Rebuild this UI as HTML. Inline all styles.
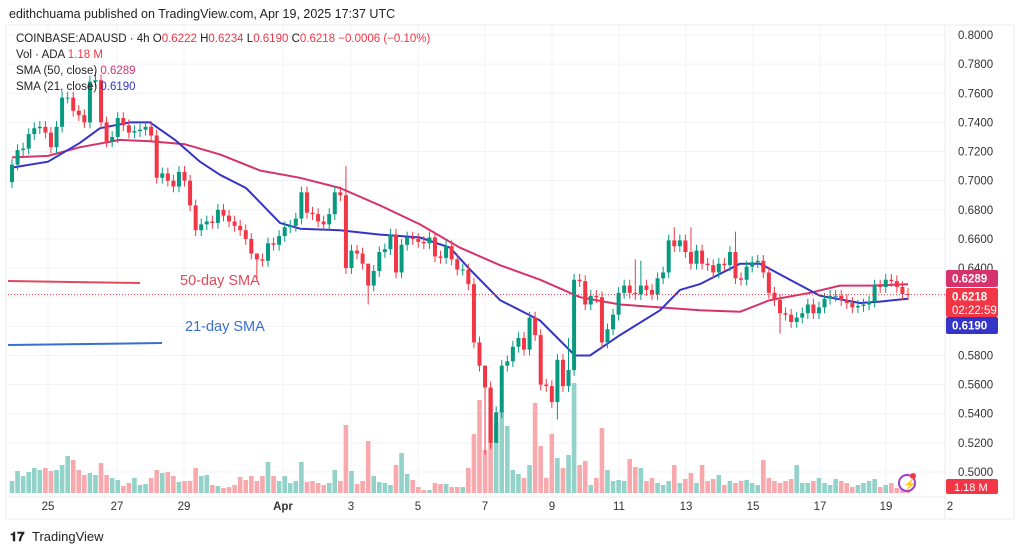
<!DOCTYPE html>
<html><head><meta charset="utf-8"><style>
body{margin:0;background:#fff;width:1024px;height:553px;overflow:hidden;font-family:"Liberation Sans",sans-serif}
svg text{font-family:"Liberation Sans",sans-serif}
</style></head><body>
<svg id="c" width="1024" height="553" viewBox="0 0 1024 553">
<text x="9" y="18" font-size="12.5" fill="#222">edithchuama published on TradingView.com, Apr 19, 2025 17:37 UTC</text>
<rect x="6" y="25" width="1008" height="494" fill="none" stroke="#e6e8ee"/>
<g id="grid"></g>
<g id="vol"></g>
<g id="sma"></g>
<g id="candles"></g>
<g id="axis"></g>
<g id="xaxis"></g>
<g font-size="11.5">
<text x="16" y="42" fill="#222">COINBASE:ADAUSD · 4h  O<tspan fill="#f23645">0.6222</tspan>  H<tspan fill="#f23645">0.6234</tspan>  L<tspan fill="#f23645">0.6190</tspan>  C<tspan fill="#f23645">0.6218</tspan>  <tspan fill="#f23645">−0.0006 (−0.10%)</tspan></text>
<text x="16" y="58" fill="#222">Vol · ADA  <tspan fill="#f23645">1.18 M</tspan></text>
<text x="16" y="74" fill="#222">SMA (50, close)  <tspan fill="#d6336c">0.6289</tspan></text>
<text x="16" y="90" fill="#222">SMA (21, close)  <tspan fill="#3434c8">0.6190</tspan></text>
</g>
<line x1="8" y1="281" x2="140" y2="283" stroke="#e04a5a" stroke-width="2"/>
<text x="180" y="285" font-size="14.5" fill="#e04a5a">50-day SMA</text>
<line x1="8" y1="345" x2="162" y2="343" stroke="#3a6fd0" stroke-width="2"/>
<text x="185" y="331" font-size="14.5" fill="#3a6fd0">21-day SMA</text>
<g><text x="10" y="541" font-size="13" font-weight="bold" fill="#222">𝟏𝟕</text><text x="32" y="541" font-size="13" fill="#222">TradingView</text></g>
<g><circle cx="907" cy="483" r="8" fill="none" stroke="#9c3bd6" stroke-width="2"/><circle cx="913" cy="476" r="3" fill="#f23645"/><text x="903" y="488" font-size="11" fill="#9c3bd6">⚡</text></g>
</svg>
<script>
const closes=[0.711,0.721,0.722,0.732,0.736,0.737,0.733,0.723,0.737,0.757,0.757,0.748,0.745,0.740,0.768,0.769,0.740,0.727,0.730,0.743,0.738,0.733,0.734,0.735,0.737,0.731,0.702,0.705,0.700,0.696,0.706,0.700,0.683,0.666,0.670,0.672,0.671,0.680,
0.676,0.672,0.669,
0.666,0.660,0.650,0.646,0.645,0.657,0.656,0.662,0.668,0.669,0.674,0.692,0.678,0.677,0.672,0.670,0.677,0.692,0.690,0.640,
0.652,0.650,0.643,0.628,0.638,0.651,0.653,0.663,0.637,0.656,0.661,0.660,0.658,0.657,0.661,0.648,0.647,0.655,0.646,0.639,0.639,0.629,0.589,0.573,0.558,0.520,
0.541,0.573,0.576,0.586,0.592,0.584,0.606,0.594,0.560,0.559,0.548,0.577,0.559,0.570,0.632,0.631,0.615,0.621,0.620,0.589,0.598,0.608,0.623,0.628,
0.623,0.622,0.628,0.625,0.622,0.633,0.637,0.659,0.655,0.659,0.651,0.643,0.652,0.643,0.642,0.637,0.643,0.642,0.651,0.633,0.632,0.641,0.644,0.645,0.637,0.623,0.618,0.609,0.608,0.603,0.606,0.609,0.615,0.609,0.613,0.619,0.621,0.621,0.618,0.616,0.613,0.614,0.615,0.617,0.628,0.627,0.632,0.631,0.627,0.6222,0.6218];
const firstOpen=0.699;
const highSpikes={15:0.775,60:0.710,85:0.512,100:0.592,112:0.646,113:0.645,119:0.668,122:0.668,64:0.615,44:0.632,130:0.665};
const lowSpikes={85:0.512,98:0.536,64:0.615,44:0.632,138:0.595,87:0.540};
const volumes=[12,22,17,21,25,23,25,22,23,28,37,33,23,18,20,18,30,18,15,13,7,10,15,8,9,15,23,20,21,17,11,12,12,25,17,18,8,7,5,6,8,16,13,17,12,17,31,17,12,17,10,12,31,11,12,10,8,10,23,12,68,
22,9,12,52,17,11,10,8,28,40,19,13,6,3,3,10,9,9,6,6,6,25,59,93,43,104,
70,82,67,23,19,15,28,90,47,15,59,35,25,38,110,28,32,8,15,65,23,12,13,12,
34,26,25,12,15,10,8,12,28,10,14,20,10,28,12,14,18,8,12,10,12,13,10,8,33,15,12,10,12,14,28,10,10,12,15,10,8,14,12,10,6,8,10,12,14,6,8,10,5,4,3];
const sma50X=[12,48,80,120,150,185,220,260,300,340,380,420,460,500,540,580,620,660,700,740,770,810,840,870,908];
const sma50V=[0.716,0.717,0.723,0.728,0.727,0.725,0.718,0.707,0.702,0.695,0.683,0.670,0.654,0.642,0.632,0.620,0.615,0.613,0.611,0.610,0.618,0.623,0.628,0.628,0.6289];
const sma21X=[12,48,80,100,130,150,175,200,220,246,280,300,340,380,420,450,470,500,540,575,590,620,660,680,700,740,760,790,820,860,880,908];
const sma21V=[0.709,0.713,0.726,0.736,0.740,0.740,0.728,0.713,0.704,0.695,0.671,0.667,0.666,0.663,0.661,0.654,0.639,0.618,0.604,0.580,0.580,0.594,0.611,0.625,0.629,0.643,0.643,0.632,0.621,0.616,0.617,0.619];
const priceTicks=[0.80,0.78,0.76,0.74,0.72,0.70,0.68,0.66,0.64,0.62,0.60,0.58,0.56,0.54,0.52,0.50];
const dateLabels=["25","27","29","Apr","3","5","7","9","11","13","15","17","19","2"];
const dateX=[48,117,184,283,351,418,485,552,619,686,753,820,886,950];
const NS="http://www.w3.org/2000/svg";
const y=p=>35+(0.8-p)*1456.7;
const n=closes.length;
const x=i=>12+i*(908-12)/(n-1);
const vy=v=>493-v;
function mk(t,a,parent){const e=document.createElementNS(NS,t);for(const k in a)e.setAttribute(k,a[k]);parent.appendChild(e);return e;}
const G=id=>document.getElementById(id);
priceTicks.forEach(p=>{const l=mk('line',{x1:8,x2:945,y1:y(p),y2:y(p),stroke:'#f0f3fa'},G('grid'));


const t=mk('text',{x:958,y:y(p)+4,'font-size':11.5,fill:'#333'},G('axis'));t.textContent=p.toFixed(4);

});
dateLabels.forEach((d,i)=>{const l=mk('line',{x1:dateX[i],x2:dateX[i],y1:26,y2:495,stroke:'#f0f3fa'},G('grid'));


const t=mk('text',{x:dateX[i],y:510,'font-size':11.5,fill:'#333','text-anchor':'middle','font-weight':d==='Apr'?'bold':'normal'},G('xaxis'));t.textContent=d;

});
mk('line',{x1:945,x2:945,y1:26,y2:518,stroke:'#e6e8ee'},G('axis'));
mk('line',{x1:8,x2:945,y1:497,y2:497,stroke:'#e6e8ee'},G('axis'));
for(let i=0;i<n;i++){
 const o=i?closes[i-1]:firstOpen,c=closes[i],up=c>=o;
 const h=highSpikes[i]!==undefined?Math.max(highSpikes[i],o,c):Math.max(o,c)+0.004;
 const lo=lowSpikes[i]!==undefined?Math.min(lowSpikes[i],o,c):Math.min(o,c)-0.004;
 const col=up?'#089981':'#f23645';
 const v=volumes[i]||0;
 const vb=mk('rect',{x:x(i)-2.3,y:vy(v),width:4.6,height:v,fill:up?'#92d2c8':'#f7a9ad'},G('vol'));
 
 
 const w=mk('line',{x1:x(i),x2:x(i),y1:y(h),y2:y(lo),stroke:col,'stroke-width':1},G('candles'));
 
 
 const b=mk('rect',{x:x(i)-2,y:y(Math.max(o,c)),width:4,height:Math.max(1,Math.abs(y(o)-y(c))),fill:col},G('candles'));
 
 
}
function line(X,V,col,name){const d=X.map((xx,i)=>(i?'L':'M')+xx+','+y(V[i]).toFixed(1)).join('');
const p=mk('path',{d:d,fill:'none',stroke:col,'stroke-width':2,'stroke-linejoin':'round'},G('sma'));

}
line(sma50X,sma50V,'#d6336c','sma50-line');
line(sma21X,sma21V,'#3434c8','sma21-line');
const last=closes[n-1];
const dl=mk('line',{x1:8,x2:945,y1:y(last),y2:y(last),stroke:'#f23645','stroke-dasharray':'1,2'},G('axis'));


function tag(top,col,txt,name,h,sub){const r=mk('rect',{x:946,y:top,width:52,height:h,fill:col,rx:2},G('axis'));


const t=mk('text',{x:952,y:top+12.5,'font-size':11.5,fill:'#fff','font-weight':'bold'},G('axis'));t.textContent=txt;
if(sub){const s=mk('text',{x:952,y:top+26,'font-size':11.5,fill:'#fff'},G('axis'));s.textContent=sub;}}
tag(270,'#d6336c','0.6289','sma50-price-tag',17);
tag(288,'#f23645','0.6218','last-price-tag',29,'02:22:59');
tag(317,'#3434c8','0.6190','sma21-price-tag',17);
const vt=mk('rect',{x:946,y:479,width:52,height:15,fill:'#f23645',rx:2},G('axis'));


const vtt=mk('text',{x:954,y:491,'font-size':11,fill:'#fff'},G('axis'));vtt.textContent='1.18 M';
</script>
</body></html>
